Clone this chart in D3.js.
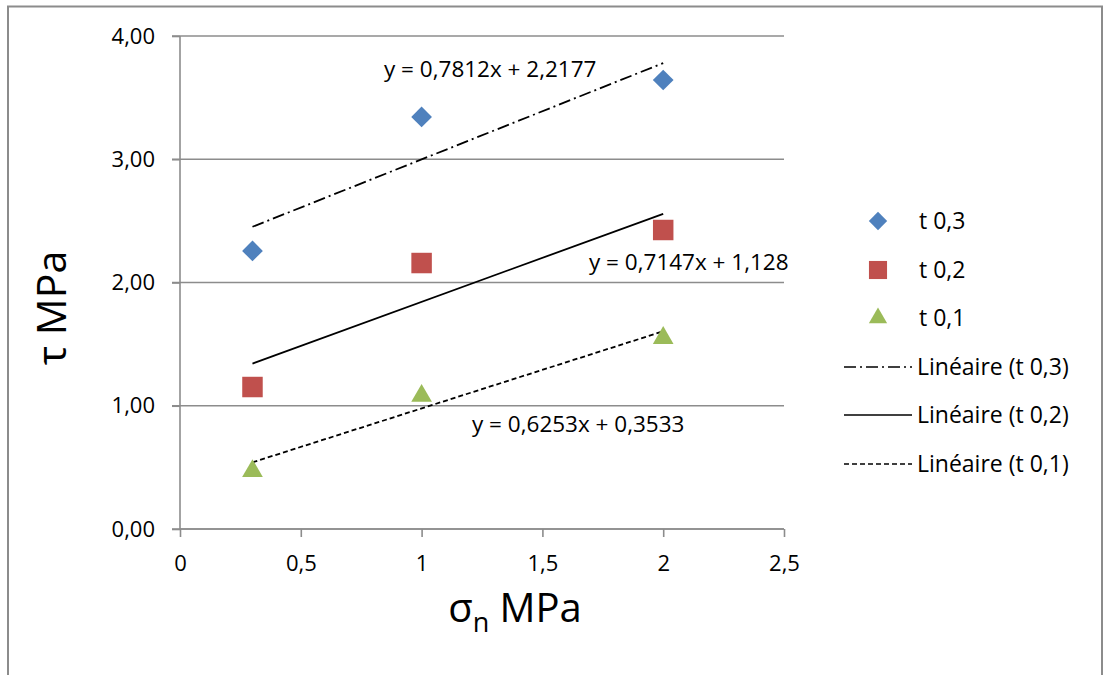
<!DOCTYPE html>
<html><head><meta charset="utf-8">
<script src="https://cdn.jsdelivr.net/npm/d3@7"></script>
<style>body{margin:0;background:#fff}svg text{font-family:"Open Sans",sans-serif}</style>
</head><body><svg id="c" width="1104" height="675"></svg>
<script>
const xValues = [0.3, 1, 2];
const seriesNames = ["t 0,3", "t 0,2", "t 0,1"];
const t03 = [2.256, 3.343, 3.643];
const t02 = [1.152, 2.158, 2.426];
const t01 = [0.47, 1.08, 1.55];
const slopes = [0.7812, 0.7147, 0.6253];
const intercepts = [2.2177, 1.128, 0.3533];
const equations = ["y = 0,7812x + 2,2177", "y = 0,7147x + 1,128", "y = 0,6253x + 0,3533"];
const trendNames = ["Linéaire (t 0,3)", "Linéaire (t 0,2)", "Linéaire (t 0,1)"];
const xTicks = [0, 0.5, 1, 1.5, 2, 2.5];
const yTicks = [0, 1, 2, 3, 4];

const colors = ["#4F81BD", "#C0504D", "#9BBB59"];
const symbols = [d3.symbolSquare, d3.symbolSquare, d3.symbolTriangle];
const rotations = [45, 0, 0];
const symSizes = [215, 420, 185];
const dashes = ["12,4,2,4", null, "5,3"];
const series = [t03, t02, t01];

const svg = d3.select("#c");
const fmtComma = v => String(v).replace(".", ",");
const FS = 22;

// outer frame
svg.append("rect").attr("x", 8).attr("y", 6.5).attr("width", 1094).attr("height", 680)
  .attr("fill", "none").attr("stroke", "#8c8c8c").attr("stroke-width", 2);

const x = d3.scaleLinear().domain([0, 2.5]).range([180, 784]);
const y = d3.scaleLinear().domain([0, 4]).range([529, 36]);

// gridlines
svg.append("g").selectAll("line").data(yTicks).join("line")
  .attr("x1", 172).attr("x2", 784).attr("y1", d => y(d)).attr("y2", d => y(d))
  .attr("stroke", "#8c8c8c").attr("stroke-width", 1.6);

// y axis
const yAxis = d3.axisLeft(y).tickValues(yTicks).tickSize(8)
  .tickFormat(d => d3.format(".2f")(d).replace(".", ","));
const gy = svg.append("g").attr("transform", "translate(180,0)").call(yAxis);
gy.select(".domain").attr("stroke", "#8c8c8c").attr("stroke-width", 1.6).attr("d", `M0,${y(4)}V${y(0)}`);
gy.selectAll(".tick line").attr("stroke", "#8c8c8c").attr("stroke-width", 1.6);
gy.selectAll(".tick text").attr("font-size", FS).attr("fill", "#000").attr("x", -25)
  .style("font-family", '"Open Sans",sans-serif');

// x axis
const xAxis = d3.axisBottom(x).tickValues(xTicks).tickSize(8).tickFormat(fmtComma);
const gx = svg.append("g").attr("transform", `translate(0,${y(0)})`).call(xAxis);
gx.select(".domain").attr("stroke", "#8c8c8c").attr("stroke-width", 1.6).attr("d", `M${x(0)},0H${x(2.5)}`);
gx.selectAll(".tick line").attr("stroke", "#8c8c8c").attr("stroke-width", 1.6);
gx.selectAll(".tick text").attr("font-size", FS).attr("fill", "#000").attr("y", 26)
  .style("font-family", '"Open Sans",sans-serif');

// trend lines
slopes.forEach((m, i) => {
  const x0 = d3.min(xValues), x1 = d3.max(xValues);
  svg.append("line")
    .attr("x1", x(x0)).attr("y1", y(m * x0 + intercepts[i]))
    .attr("x2", x(x1)).attr("y2", y(m * x1 + intercepts[i]))
    .attr("stroke", "#000").attr("stroke-width", 1.8)
    .attr("stroke-dasharray", dashes[i]);
});

// markers
series.forEach((vals, i) => {
  svg.append("g").selectAll("path").data(vals).join("path")
    .attr("d", d3.symbol().type(symbols[i]).size(symSizes[i]))
    .attr("transform", (d, j) => `translate(${x(xValues[j])},${y(d)}) rotate(${rotations[i]})`)
    .attr("fill", colors[i]);
});

// equation labels
const eqPos = [[384, 77], [589, 270], [472, 432]];
equations.forEach((e, i) => {
  svg.append("text").attr("x", eqPos[i][0]).attr("y", eqPos[i][1])
    .attr("font-size", 22.5).attr("fill", "#000").text(e);
});

// axis titles
svg.append("text").attr("transform", "translate(66,308) rotate(-90)")
  .attr("text-anchor", "middle").attr("font-size", 41).attr("fill", "#000").text("τ MPa");
const xt = svg.append("text").attr("x", 515).attr("y", 622).attr("text-anchor", "middle")
  .attr("font-size", 40).attr("fill", "#000");
xt.append("tspan").text("σ");
xt.append("tspan").attr("font-size", 27).attr("dy", 10).text("n");
xt.append("tspan").attr("dy", -10).text(" MPa");

// legend
const legY = [221, 270, 318, 367, 415, 464];
seriesNames.forEach((n, i) => {
  svg.append("path").attr("d", d3.symbol().type(symbols[i]).size(symSizes[i] * 0.78)())
    .attr("transform", `translate(878,${legY[i]}) rotate(${rotations[i]})`).attr("fill", colors[i]);
  svg.append("text").attr("x", 919).attr("y", legY[i] + 8).attr("font-size", 23).attr("fill", "#000").text(n);
});
trendNames.forEach((n, i) => {
  const yy = legY[i + 3];
  svg.append("line").attr("x1", 844).attr("x2", 912).attr("y1", yy).attr("y2", yy)
    .attr("stroke", "#000").attr("stroke-width", 1.6).attr("stroke-dasharray", dashes[i]);
  svg.append("text").attr("x", 917).attr("y", yy + 8).attr("font-size", 23).attr("fill", "#000").text(n);
});
</script></body></html>
